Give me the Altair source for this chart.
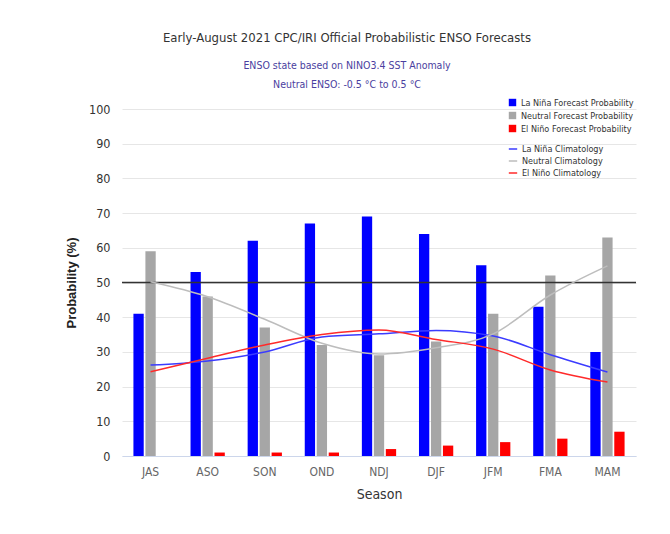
import altair as alt
import pandas as pd

seasons = ["JAS", "ASO", "SON", "OND", "NDJ", "DJF", "JFM", "FMA", "MAM"]
la_nina = [41, 53, 62, 67, 69, 64, 55, 43, 30]
neutral = [59, 46, 37, 32, 29, 33, 41, 52, 63]
el_nino = [0, 1, 1, 1, 2, 3, 4, 5, 7]

clim_la_nina = [26.2, 27.4, 30.0, 34.3, 35.2, 36.2, 34.6, 29.2, 24.2]
clim_neutral = [50.2, 45.9, 39.4, 32.5, 29.4, 31.2, 35.2, 46.4, 54.8]
clim_el_nino = [24.3, 28.2, 32.0, 35.0, 36.3, 33.6, 30.8, 24.8, 21.3]

threshold = [50]
y_ticks = list(range(0, 101, 10))

bar_names = ["La Niña Forecast Probability", "Neutral Forecast Probability", "El Niño Forecast Probability"]
line_names = ["La Niña Climatology", "Neutral Climatology", "El Niño Climatology"]

FONT = "Liberation Sans Narrow, DejaVu Sans Condensed, sans-serif"

rows = []
for name, vals in zip(bar_names, [la_nina, neutral, el_nino]):
    for s, v in zip(seasons, vals):
        rows.append({"season": s, "type": name, "value": v})
bars_df = pd.DataFrame(rows)

rows = []
for name, vals in zip(line_names, [clim_la_nina, clim_neutral, clim_el_nino]):
    for s, v in zip(seasons, vals):
        rows.append({"season": s, "clim": name, "value": v})
lines_df = pd.DataFrame(rows)

rule_df = pd.DataFrame({"value": threshold})

x_axis = alt.Axis(title="Season", labelAngle=0, labelColor="#666666", labelFontSize=12,
                  labelFont=FONT, labelPadding=10, ticks=False, domainColor="#ccd6eb",
                  titleFont=FONT, titleFontSize=14, titleFontWeight="normal",
                  titleColor="#333333", titlePadding=10)
x_scale = alt.Scale(paddingInner=0.4, paddingOuter=0.2)

y_axis = alt.Axis(title="Probability (%)", values=y_ticks, labelFontSize=12.5,
                  labelFont=FONT, labelColor="#333333", labelPadding=12, ticks=False,
                  labelOverlap=False, labelFlush=False, tickCount=11,
                  domain=False, gridColor="#e6e6e6", titleFont="Liberation Sans, Arial, sans-serif",
                  titleFontSize=13, titleFontWeight="bold", titleColor="#222222", titlePadding=10)
y_scale = alt.Scale(domain=[0, 100], nice=False)

def y_enc():
    return alt.Y("value:Q", scale=y_scale, axis=y_axis, title="Probability (%)")

def x_enc():
    return alt.X("season:N", sort=seasons, scale=x_scale, axis=x_axis, title="Season")

bars = alt.Chart(bars_df).mark_bar().encode(
    x=x_enc(),
    xOffset=alt.XOffset("type:N", sort=bar_names, scale=alt.Scale(paddingInner=0.14)),
    y=y_enc(),
    color=alt.Color("type:N", sort=bar_names,
                    scale=alt.Scale(domain=bar_names, range=["#0000ff", "#a6a6a6", "#ff0000"]),
                    legend=alt.Legend(title=None, orient="none", legendX=386, legendY=-11,
                                      symbolType="square", symbolSize=55, symbolStrokeWidth=0,
                                      labelFont=FONT, labelFontSize=9, labelColor="#333333",
                                      rowPadding=3, padding=0, labelOffset=4)),
)

lines = alt.Chart(lines_df).mark_line(interpolate="monotone", strokeWidth=1.5).encode(
    x=x_enc(),
    y=y_enc(),
    stroke=alt.Stroke("clim:N", sort=line_names,
                      scale=alt.Scale(domain=line_names, range=["#3b3bff", "#bdbdbd", "#ff2a2a"]),
                      legend=alt.Legend(title=None, orient="none", legendX=386, legendY=35,
                                        symbolType="stroke", symbolSize=70, symbolStrokeWidth=1.5,
                                        labelFont=FONT, labelFontSize=9, labelColor="#333333",
                                        rowPadding=2, padding=0, labelOffset=4)),
)

rule = alt.Chart(rule_df).mark_rule(color="#333333", strokeWidth=1.5).encode(
    y=y_enc()
)

chart = alt.layer(bars, rule, lines).properties(
    width=514,
    height=347,
    padding={"left": 114, "top": 101, "right": 26, "bottom": 70},
    autosize=alt.AutoSizeParams(type="none"),
    background="white",
    title=alt.TitleParams(
        text="Early-August 2021 CPC/IRI Official Probabilistic ENSO Forecasts",
        subtitle=["ENSO state based on NINO3.4 SST Anomaly", "Neutral ENSO: -0.5 °C to 0.5 °C"],
        font=FONT, fontSize=13, fontWeight="normal", color="#333333",
        subtitleFont=FONT, subtitleFontSize=10.5, subtitleColor="#4a3ea0",
        subtitleLineHeight=19, subtitlePadding=16,
        anchor="middle", frame="group", dx=-32, offset=8,
    ),
).configure_view(stroke=None).resolve_scale(color="independent")

chart.save("out.html", embed_options={"renderer": "svg", "actions": False})
